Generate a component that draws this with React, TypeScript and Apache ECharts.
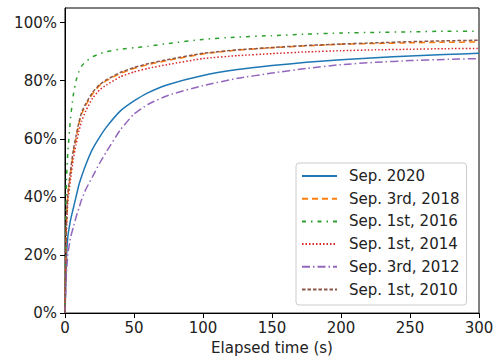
import React, { useEffect, useRef } from "react";
import * as echarts from "echarts";

const times = [0, 1, 2, 4, 6, 8, 10, 12, 15, 20, 25, 30, 40, 50, 60, 75, 100, 125, 150, 175, 200, 225, 250, 275, 300];

const sep2020 = [0, 18, 26, 32, 36, 40, 44, 47, 51, 56.5, 60.5, 64, 69.5, 73, 75.8, 78.7, 81.8, 83.8, 85.2, 86.3, 87.2, 87.9, 88.5, 89, 89.4];
const sep2018 = [0, 30, 40, 48, 55, 60, 65, 68.5, 71.5, 75.5, 78.3, 80, 82.5, 84.2, 85.5, 87, 89.2, 90.5, 91.3, 92, 92.5, 92.8, 93, 93.2, 93.3];
const sep2016 = [0, 45, 55, 67, 75, 80, 83, 85, 86.5, 88.2, 89.2, 90, 90.8, 91.3, 91.8, 92.8, 94.2, 95, 95.5, 96, 96.4, 96.6, 96.8, 97, 97];
const sep2014 = [0, 28, 38, 46, 53, 58, 62.5, 66, 69.5, 74, 76.8, 78.5, 81.3, 83, 84.2, 85.6, 87.6, 88.6, 89.3, 89.9, 90.3, 90.6, 90.8, 91, 91.1];
const sep2012 = [0, 13, 20, 26, 29.5, 33, 36, 39, 42.5, 47, 51.5, 55.5, 63, 68.5, 71.8, 75, 78.3, 80.8, 82.6, 84.2, 85.5, 86.3, 86.9, 87.3, 87.6];
const sep2010 = [0, 31, 41, 49, 56, 61, 65.5, 69, 72, 76, 78.6, 80.3, 82.8, 84.5, 85.8, 87.3, 89.4, 90.6, 91.4, 92.1, 92.6, 93, 93.4, 93.7, 93.9];

const seriesNames = ["Sep. 2020", "Sep. 3rd, 2018", "Sep. 1st, 2016", "Sep. 1st, 2014", "Sep. 3rd, 2012", "Sep. 1st, 2010"];
const seriesValues = [sep2020, sep2018, sep2016, sep2014, sep2012, sep2010];

const yTicks = [0, 20, 40, 60, 80, 100];

const colors = ["#1f77b4", "#ff7f0e", "#2ca02c", "#d62728", "#9467bd", "#8c564b"];
const dashes: any[] = ["solid", [6, 4], [4, 5, 1.5, 5], [1.5, 2], [8, 3, 1.5, 3], [3.5, 2]];

const FONT = "DejaVu Sans";

export default function App() {
  const ref = useRef<HTMLDivElement>(null);
  useEffect(() => {
    if (!ref.current) return;
    const chart = echarts.init(ref.current, null, { renderer: "svg" });
    chart.setOption({
      animation: false,
      textStyle: { fontFamily: FONT },
      grid: {
        left: 65,
        right: 20,
        top: 8,
        bottom: 46,
        show: true,
        borderColor: "#000",
        borderWidth: 1,
        backgroundColor: "transparent",
      },
      xAxis: {
        type: "value",
        min: 0,
        max: 300,
        interval: 50,
        name: "Elapsed time (s)",
        nameLocation: "middle",
        nameGap: 26,
        nameTextStyle: { fontSize: 15, color: "#222", fontFamily: FONT },
        axisLine: { show: true, onZero: false, lineStyle: { color: "#000", width: 1 } },
        axisTick: { show: true, inside: false, length: 5, lineStyle: { color: "#000" } },
        axisLabel: { fontSize: 15, color: "#222", margin: 7, fontFamily: FONT },
        splitLine: { show: false },
      },
      yAxis: {
        type: "value",
        min: 0,
        max: 105,
        axisLine: { show: true, onZero: false, lineStyle: { color: "#000", width: 1 } },
        axisTick: { show: true, inside: false, length: 5, lineStyle: { color: "#000" }, customValues: yTicks },
        axisLabel: {
          fontSize: 15,
          color: "#222",
          margin: 8,
          fontFamily: FONT,
          customValues: yTicks,
          formatter: (v: number) => `${v}%`,
        },
        splitLine: { show: false },
      },
      legend: {
        orient: "vertical",
        left: 296,
        top: 163,
        padding: [5.5, 7, 8, 5],
        itemWidth: 35,
        itemHeight: 14,
        itemGap: 7.7,
        backgroundColor: "rgba(255,255,255,0.8)",
        borderColor: "#ccc",
        borderWidth: 1,
        borderRadius: 3,
        itemStyle: { opacity: 0 },
        textStyle: { fontSize: 15, color: "#222", fontFamily: FONT, lineHeight: 15, padding: [0, 0, 0, 7] },
        data: seriesNames,
      },
      series: seriesNames.map((name, i) => ({
        name,
        type: "line",
        symbol: "none",
        showSymbol: false,
        smooth: 0.15,
        data: times.map((t, j) => [t, seriesValues[i][j]]),
        lineStyle: { color: colors[i], width: 1.5, type: dashes[i] },
        itemStyle: { color: colors[i] },
      })),
    });
    return () => chart.dispose();
  }, []);
  return <div ref={ref} style={{ width: 499, height: 360, position: "absolute", left: 0, top: 0 }} />;
}
